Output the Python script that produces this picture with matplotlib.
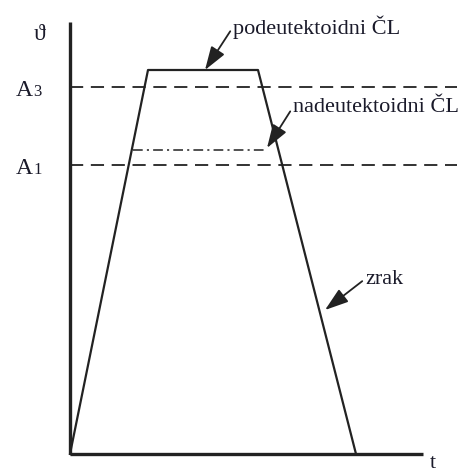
import matplotlib
matplotlib.use("Agg")
import matplotlib.pyplot as plt

plt.rcParams['lines.scale_dashes'] = False
plt.rcParams['font.family'] = ['Liberation Serif', 'DejaVu Serif']

# data (arbitrary units: time t, temperature theta)
t_curve = [0, 78, 188, 286]
theta_curve = [0, 384, 384, 0]
A3 = 367
A1 = 289
t_dashdot = [63, 195]
theta_dashdot = 304
t_end = 353
theta_top = 432
t_levels_end = 387

labels = {
    "podeutektoidni ČL": ((163, 427), (135, 384)),
    "nadeutektoidni ČL": ((223, 347), (197, 306)),
    "zrak": ((295, 175), (255, 144)),
}

fig = plt.figure(figsize=(4.67, 4.72), dpi=100)
ax = fig.add_axes([0, 0, 1, 1])
ax.set_xlim(-70, 397)
ax.set_ylim(-18, 454)
ax.axis('off')

col = '#222222'
tcol = '#1a1a2a'
# axes
ax.plot([0, 0], [0, theta_top], color=col, lw=2.4, solid_capstyle='butt')
ax.plot([0, t_end], [0, 0], color=col, lw=2.4, solid_capstyle='butt')

# heating curve
ax.plot(t_curve, theta_curve, color=col, lw=1.6)

# levels
ax.plot([0, t_levels_end], [A3, A3], color=col, lw=1.3, dashes=[9.5, 5.5])
ax.plot([0, t_levels_end], [A1, A1], color=col, lw=1.3, dashes=[9.5, 5.5])
ax.plot(t_dashdot, [theta_dashdot, theta_dashdot], color=col, lw=1.1,
        dashes=[7, 3, 1.5, 3])

fs = 16
for txt, (tpos, ppos) in labels.items():
    ax.annotate(txt, xy=ppos, xytext=tpos, fontsize=fs, color=tcol,
                ha='left', va='center',
                arrowprops=dict(arrowstyle='-|>,head_length=0.9,head_width=0.3',
                                color=col, lw=1.3, shrinkA=0, shrinkB=0,
                                relpos=(0, 0.5)))

ax.text(-30, 419, "ϑ", fontsize=17, ha='center', va='center', color=tcol)
for name, sub, lvl in (("A", "3", A3), ("A", "1", A1)):
    ax.text(-37, lvl - 3, name, fontsize=17, ha='right', va='center', color=tcol)
    ax.text(-37, lvl - 5, sub, fontsize=12, ha='left', va='center', color=tcol)
ax.text(363, -9, "t", fontsize=16, ha='center', va='center', color=tcol)

fig.savefig("out.png", dpi=100)
